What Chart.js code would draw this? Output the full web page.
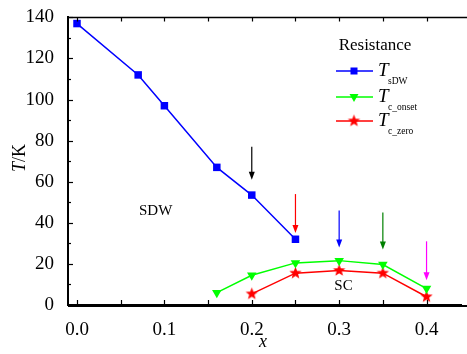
<!DOCTYPE html>
<html>
<head>
<meta charset="utf-8">
<script src="https://cdn.jsdelivr.net/npm/chart.js@4.4.0/dist/chart.umd.min.js"></script>
<style>
  html, body { margin: 0; padding: 0; background: #fff; }
</style>
</head>
<body>
<canvas id="chart" width="467" height="354"></canvas>
<script>
// --- data ---
const xSdw = [0.0, 0.07, 0.10, 0.16, 0.20, 0.25];
const tSdw = [137, 112, 97, 67, 53.5, 32];
const xOnset = [0.16, 0.20, 0.25, 0.30, 0.35, 0.40];
const tOnset = [6, 14.5, 20.5, 21.6, 19.7, 8];
const xZero = [0.20, 0.25, 0.30, 0.35, 0.40];
const tZero = [5.4, 15.5, 16.8, 15.5, 4];

// arrows marking the doping levels
const arrowX = [0.20, 0.25, 0.30, 0.35, 0.40];
const arrowFrom = [77, 54, 46, 45, 31];
const arrowTo = [61, 35, 28, 27, 12];
const arrowColors = ['#000000', '#ff0000', '#0000ff', '#008000', '#ff00ff'];

const xTicks = [0.0, 0.1, 0.2, 0.3, 0.4];
const yTicks = [0, 20, 40, 60, 80, 100, 120, 140];

const seriesNames = ['sDW', 'c_onset', 'c_zero'];
const seriesColors = ['#0000ff', '#00ff00', '#ff0000'];

const FONT = '"Liberation Serif", "Times New Roman", serif';

// filled star marker (Chart.js 'star' is only lines)
function makeStar(color, r) {
    const c = document.createElement('canvas');
    const s = Math.ceil(r * 2 + 2);
    c.width = s; c.height = s;
    const g = c.getContext('2d');
    g.fillStyle = color;
    g.beginPath();
    for (let i = 0; i < 10; i++) {
        const rad = i % 2 === 0 ? r : r * 0.42;
        const a = -Math.PI / 2 + i * Math.PI / 5;
        const px = s / 2 + Math.cos(a) * rad;
        const py = s / 2 + Math.sin(a) * rad;
        if (i === 0) g.moveTo(px, py); else g.lineTo(px, py);
    }
    g.closePath();
    g.fill();
    return c;
}
const starImg = makeStar('#ff0000', 6.5);

const toPts = (xs, ys) => xs.map((x, i) => ({ x: x, y: ys[i] }));

// --- extra drawing: frame, inward ticks, arrows, labels, legend ---
const decorPlugin = {
    id: 'decor',
    afterDatasetsDraw(chart) {
        const ctx = chart.ctx;
        const xs = chart.scales.x, ys = chart.scales.y;
        const a = chart.chartArea;
        const W = chart.width;
        ctx.save();

        // top border line
        ctx.strokeStyle = '#000';
        ctx.lineWidth = 1.5;
        ctx.beginPath();
        ctx.moveTo(a.left, a.top);
        ctx.lineTo(W, a.top);
        ctx.stroke();
        // bottom axis carried to the edge
        ctx.lineWidth = 2;
        ctx.beginPath();
        ctx.moveTo(a.left, a.bottom + 1);
        ctx.lineTo(W, a.bottom + 1);
        ctx.stroke();

        // inward ticks on x (bottom and top)
        ctx.lineWidth = 1.2;
        for (let v = 0; v <= 0.45; v += 0.05) {
            const px = Math.round(xs.getPixelForValue(v)) + 0.5;
            if (px > W) break;
            ctx.beginPath();
            ctx.moveTo(px, a.bottom); ctx.lineTo(px, a.bottom - 5);
            ctx.moveTo(px, a.top); ctx.lineTo(px, a.top + 4);
            ctx.stroke();
        }
        // inward ticks on y
        for (let v = 0; v <= 140; v += 10) {
            const py = Math.round(ys.getPixelForValue(v)) + 0.5;
            const len = v % 20 === 0 ? 5 : 3;
            ctx.beginPath();
            ctx.moveTo(a.left, py); ctx.lineTo(a.left + len, py);
            ctx.stroke();
        }

        // arrows
        arrowX.forEach((x, i) => {
            const px = xs.getPixelForValue(x);
            const y0 = ys.getPixelForValue(arrowFrom[i]);
            const y1 = ys.getPixelForValue(arrowTo[i]);
            ctx.strokeStyle = arrowColors[i];
            ctx.fillStyle = arrowColors[i];
            ctx.lineWidth = 1.2;
            ctx.beginPath();
            ctx.moveTo(px, y0); ctx.lineTo(px, y1 - 6);
            ctx.stroke();
            ctx.beginPath();
            ctx.moveTo(px - 3, y1 - 8);
            ctx.lineTo(px + 3, y1 - 8);
            ctx.lineTo(px, y1);
            ctx.closePath();
            ctx.fill();
        });

        // region labels
        ctx.fillStyle = '#000';
        ctx.font = '15px ' + FONT;
        ctx.textAlign = 'center';
        ctx.textBaseline = 'middle';
        ctx.fillText('SDW', xs.getPixelForValue(0.09), ys.getPixelForValue(45.5));
        ctx.fillText('SC', xs.getPixelForValue(0.305), ys.getPixelForValue(9));

        // axis titles
        ctx.font = 'italic 18px ' + FONT;
        ctx.fillText('x', 263, 342);
        ctx.save();
        ctx.translate(20, 158);
        ctx.rotate(-Math.PI / 2);
        ctx.textAlign = 'left';
        const wT = ctx.measureText('T').width;
        ctx.font = '18px ' + FONT;
        const wK = ctx.measureText('/K').width;
        const start = -(wT + wK) / 2;
        ctx.font = 'italic 18px ' + FONT;
        ctx.fillText('T', start, 0);
        ctx.font = '18px ' + FONT;
        ctx.fillText('/K', start + wT, 0);
        ctx.restore();

        // legend
        ctx.font = '17px ' + FONT;
        ctx.textAlign = 'center';
        ctx.fillText('Resistance', 375, 46);
        const rows = [71, 97, 121];
        rows.forEach((ry, i) => {
            ctx.strokeStyle = seriesColors[i];
            ctx.lineWidth = 1.5;
            ctx.beginPath();
            ctx.moveTo(336, ry); ctx.lineTo(373, ry);
            ctx.stroke();
            if (i === 0) {
                ctx.fillStyle = seriesColors[i];
                ctx.fillRect(350.5, ry - 3.5, 7, 7);
            } else if (i === 1) {
                ctx.fillStyle = seriesColors[i];
                ctx.beginPath();
                ctx.moveTo(349.5, ry - 3); ctx.lineTo(358.5, ry - 3); ctx.lineTo(354, ry + 5);
                ctx.closePath();
                ctx.fill();
            } else {
                ctx.drawImage(starImg, 354 - starImg.width / 2, ry - starImg.height / 2);
            }
            ctx.fillStyle = '#000';
            ctx.textAlign = 'left';
            ctx.font = 'italic 19px ' + FONT;
            ctx.fillText('T', 378, ry);
            ctx.font = '9.5px ' + FONT;
            ctx.fillText(seriesNames[i], 388, ry + 10);
        });

        ctx.restore();
    }
};

const ctx = document.getElementById('chart');
new Chart(ctx, {
    type: 'line',
    data: {
        datasets: [
            {
                label: 'T_sDW',
                data: toPts(xSdw, tSdw),
                borderColor: seriesColors[0],
                backgroundColor: seriesColors[0],
                borderWidth: 1.5,
                pointStyle: 'rect',
                pointRadius: 5.3,
                pointBorderWidth: 0,
                clip: false
            },
            {
                label: 'T_c_onset',
                data: toPts(xOnset, tOnset),
                borderColor: seriesColors[1],
                backgroundColor: seriesColors[1],
                borderWidth: 1.5,
                pointStyle: 'triangle',
                rotation: 180,
                pointRadius: 5.5,
                pointBorderWidth: 0,
                clip: false
            },
            {
                label: 'T_c_zero',
                data: toPts(xZero, tZero),
                borderColor: seriesColors[2],
                backgroundColor: seriesColors[2],
                borderWidth: 1.5,
                pointStyle: starImg,
                clip: false
            }
        ]
    },
    options: {
        responsive: false,
        animation: false,
        layout: { padding: { top: 14, right: 0, left: 0, bottom: 0 } },
        plugins: {
            legend: { display: false },
            tooltip: { enabled: false }
        },
        scales: {
            x: {
                type: 'linear',
                min: -0.0103,
                max: 0.44,
                afterBuildTicks: (s) => { s.ticks = xTicks.map(v => ({ value: v })); },
                afterFit: (s) => { s.height = 49; },
                grid: { display: false },
                border: { display: true, color: '#000', width: 2 },
                ticks: {
                    color: '#000',
                    padding: 6,
                    maxRotation: 0,
                    font: { family: FONT, size: 19 },
                    callback: (v) => v.toFixed(1)
                }
            },
            y: {
                min: 0,
                max: 140,
                afterBuildTicks: (s) => { s.ticks = yTicks.map(v => ({ value: v })); },
                afterFit: (s) => { s.width = 68; },
                grid: { display: false },
                border: { display: true, color: '#000', width: 2 },
                ticks: {
                    color: '#000',
                    padding: 6,
                    font: { family: FONT, size: 19 }
                }
            }
        }
    },
    plugins: [decorPlugin]
});
</script>
</body>
</html>
